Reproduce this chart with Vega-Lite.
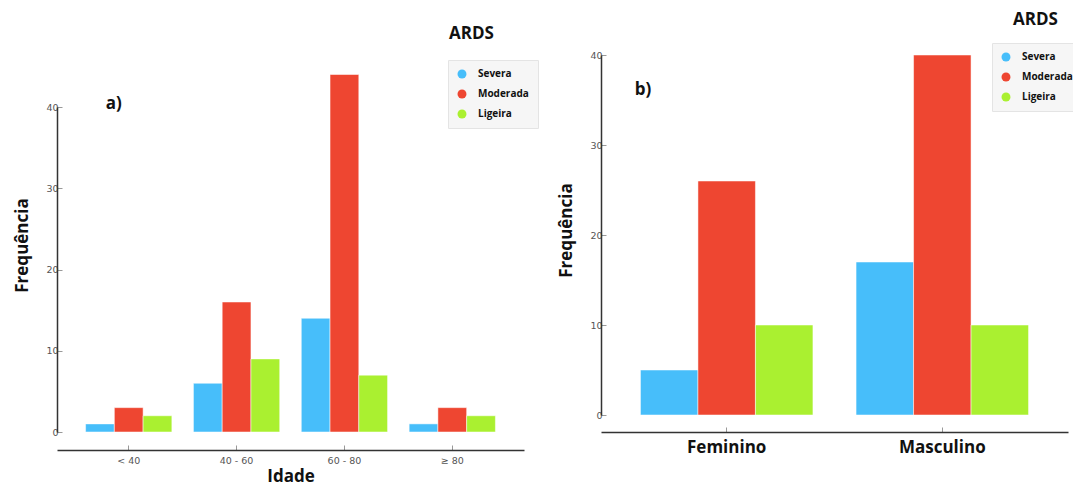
{
  "$schema": "https://vega.github.io/schema/vega-lite/v6.json",
  "background": "white",
  "padding": {"left": 13, "top": 10, "right": 0, "bottom": 0},
  "bounds": "flush",
  "spacing": 77,
  "datasets": {
    "idade": [
      {"grupo": "< 40", "ards": "Severa", "freq": 1},
      {"grupo": "< 40", "ards": "Moderada", "freq": 3},
      {"grupo": "< 40", "ards": "Ligeira", "freq": 2},
      {"grupo": "40 - 60", "ards": "Severa", "freq": 6},
      {"grupo": "40 - 60", "ards": "Moderada", "freq": 16},
      {"grupo": "40 - 60", "ards": "Ligeira", "freq": 9},
      {"grupo": "60 - 80", "ards": "Severa", "freq": 14},
      {"grupo": "60 - 80", "ards": "Moderada", "freq": 44},
      {"grupo": "60 - 80", "ards": "Ligeira", "freq": 7},
      {"grupo": "≥ 80", "ards": "Severa", "freq": 1},
      {"grupo": "≥ 80", "ards": "Moderada", "freq": 3},
      {"grupo": "≥ 80", "ards": "Ligeira", "freq": 2}
    ],
    "sexo": [
      {"sexo": "Feminino", "ards": "Severa", "freq": 5},
      {"sexo": "Feminino", "ards": "Moderada", "freq": 26},
      {"sexo": "Feminino", "ards": "Ligeira", "freq": 10},
      {"sexo": "Masculino", "ards": "Severa", "freq": 17},
      {"sexo": "Masculino", "ards": "Moderada", "freq": 40},
      {"sexo": "Masculino", "ards": "Ligeira", "freq": 10}
    ],
    "rotulo_a": [{"grupo": "< 40", "freq": 40.4, "rotulo": "a)"}],
    "rotulo_b": [{"sexo": "Feminino", "freq": 36.1, "rotulo": "b)"}]
  },
  "config": {
    "view": {"stroke": null},
    "font": "DejaVu Sans",
    "axis": {
      "grid": false,
      "domainColor": "#333333",
      "domainWidth": 1.5,
      "tickColor": "#999999",
      "labelColor": "#555555",
      "labelFontSize": 9.5,
      "titleFont": "Open Sans",
      "titleFontWeight": "bold",
      "titleFontSize": 17,
      "titleColor": "#111111"
    },
    "legend": {
      "orient": "none",
      "symbolType": "circle",
      "symbolSize": 80,
      "symbolStrokeWidth": 0,
      "labelFont": "Open Sans",
      "labelFontWeight": "bold",
      "labelFontSize": 10,
      "labelColor": "#111111",
      "fillColor": "#f6f6f6",
      "strokeColor": "#e4e4e4",
      "padding": 9,
      "rowPadding": 10,
      "labelOffset": 11
    },
    "title": {
      "font": "Open Sans",
      "fontWeight": "bold",
      "fontSize": 17,
      "color": "#111111",
      "frame": "group"
    }
  },
  "resolve": {
    "scale": {"color": "independent", "xOffset": "independent"},
    "legend": {"color": "independent"}
  },
  "hconcat": [
    {
      "width": 467,
      "height": 377,
      "title": {"text": "ARDS", "anchor": "start", "dx": 392, "offset": 12},
      "layer": [
        {
          "data": {"name": "idade"},
          "mark": {"type": "bar", "stroke": "white", "strokeOpacity": 0.5, "strokeWidth": 1},
          "encoding": {
            "x": {
              "field": "grupo", "type": "nominal",
              "sort": ["< 40", "40 - 60", "60 - 80", "≥ 80"],
              "scale": {"paddingInner": 0.2, "paddingOuter": 0.265},
              "axis": {"title": "Idade", "labelAngle": 0, "offset": 18, "tickSize": -5, "labelPadding": 10, "titlePadding": 4}
            },
            "xOffset": {"field": "ards", "sort": ["Severa", "Moderada", "Ligeira"]},
            "y": {
              "field": "freq", "type": "quantitative",
              "scale": {"domain": [0, 40], "nice": false, "range": [377, 52]},
              "axis": {"title": "Frequência", "values": [0, 10, 20, 30, 40], "tickSize": -5, "labelPadding": 4, "titlePadding": 14, "titleY": 190}
            },
            "color": {
              "field": "ards", "type": "nominal",
              "sort": ["Severa", "Moderada", "Ligeira"],
              "scale": {"domain": ["Severa", "Moderada", "Ligeira"], "range": ["#47BEFA", "#EE4631", "#AAF030"]},
              "legend": {"title": null, "legendX": 391, "legendY": 5}
            }
          }
        },
        {
          "data": {"name": "rotulo_a"},
          "mark": {"type": "text", "font": "Open Sans", "fontWeight": "bold", "fontSize": 17, "align": "left", "dx": -23, "color": "#111111"},
          "encoding": {
            "x": {"field": "grupo", "type": "nominal", "sort": ["< 40", "40 - 60", "60 - 80", "≥ 80"]},
            "y": {"field": "freq", "type": "quantitative"},
            "text": {"field": "rotulo"}
          }
        }
      ]
    },
    {
      "width": 467,
      "height": 360,
      "title": {"text": "ARDS", "anchor": "start", "dx": 412, "offset": 14},
      "layer": [
        {
          "data": {"name": "sexo"},
          "mark": {"type": "bar", "stroke": "white", "strokeOpacity": 0.5, "strokeWidth": 1},
          "encoding": {
            "x": {
              "field": "sexo", "type": "nominal",
              "sort": ["Feminino", "Masculino"],
              "scale": {"paddingInner": 0.2, "paddingOuter": 0.183},
              "axis": {"title": null, "labelAngle": 0, "offset": 17, "tickSize": -5, "labelPadding": 12,
                       "labelFont": "Open Sans", "labelFontWeight": "bold", "labelFontSize": 17, "labelColor": "#111111"}
            },
            "xOffset": {"field": "ards", "sort": ["Severa", "Moderada", "Ligeira"]},
            "y": {
              "field": "freq", "type": "quantitative",
              "scale": {"domain": [0, 40], "nice": false},
              "axis": {"title": "Frequência", "values": [0, 10, 20, 30, 40], "tickSize": -5, "labelPadding": 4, "titlePadding": 14, "titleY": 175}
            },
            "color": {
              "field": "ards", "type": "nominal",
              "sort": ["Severa", "Moderada", "Ligeira"],
              "scale": {"domain": ["Severa", "Moderada", "Ligeira"], "range": ["#47BEFA", "#EE4631", "#AAF030"]},
              "legend": {"title": null, "legendX": 391, "legendY": -12}
            }
          }
        },
        {
          "data": {"name": "rotulo_b"},
          "mark": {"type": "text", "font": "Open Sans", "fontWeight": "bold", "fontSize": 17, "align": "left", "dx": -92, "color": "#111111"},
          "encoding": {
            "x": {"field": "sexo", "type": "nominal", "sort": ["Feminino", "Masculino"]},
            "y": {"field": "freq", "type": "quantitative"},
            "text": {"field": "rotulo"}
          }
        }
      ]
    }
  ]
}
